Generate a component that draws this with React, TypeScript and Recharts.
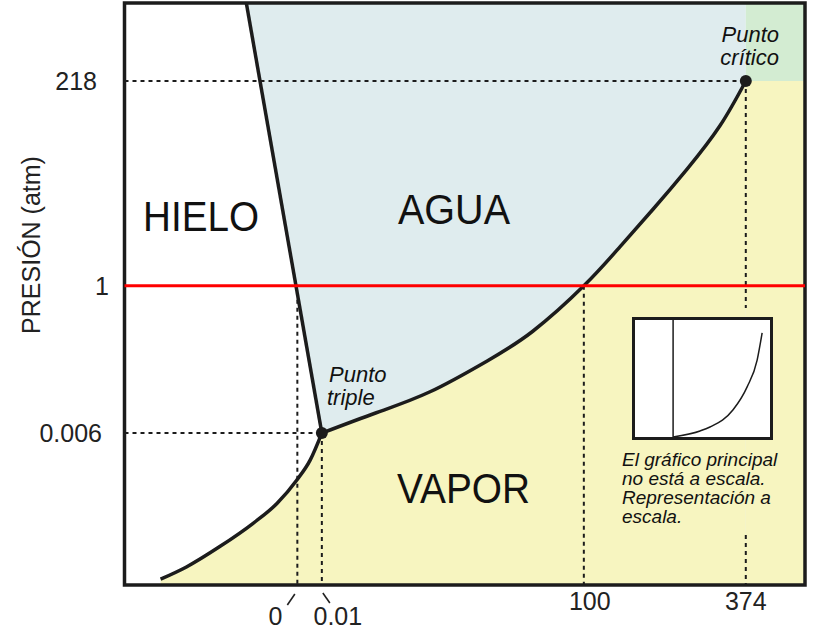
import React from 'react';
import {
  ComposedChart,
  LineChart,
  Area,
  Line,
  XAxis,
  YAxis,
  ReferenceLine,
  ReferenceArea,
  ReferenceDot,
} from 'recharts';

// schematic units (the main diagram is not to scale): 0..100 on both axes
const sublimationCurve = [
  { x: 5.3, y: 1.0 },
  { x: 9.1, y: 3.1 },
  { x: 14.0, y: 6.6 },
  { x: 18.9, y: 10.6 },
  { x: 22.4, y: 14.0 },
  { x: 25.3, y: 18.0 },
  { x: 27.3, y: 21.5 },
  { x: 29.0, y: 26.1 },
];

const vaporizationCurve = [
  { x: 29.0, y: 26.1 },
  { x: 37.0, y: 29.6 },
  { x: 44.9, y: 33.2 },
  { x: 53.3, y: 38.5 },
  { x: 60.0, y: 43.6 },
  { x: 67.5, y: 51.4 },
  { x: 72.8, y: 58.1 },
  { x: 77.7, y: 64.6 },
  { x: 82.7, y: 71.5 },
  { x: 87.5, y: 78.9 },
  { x: 91.3, y: 86.6 },
];

const fusionLine = [
  { x: 17.9, y: 100 },
  { x: 29.0, y: 26.1 },
];

const triplePoint = { x: 29.0, y: 26.1 };
const criticalPoint = { x: 91.3, y: 86.6 };

const temperatureTicks = [25.4, 29.0, 67.5, 91.3];
const temperatureLabels = ['0', '0.01', '100', '374'];
const pressureTicks = [26.1, 51.4, 86.6];
const pressureLabels = ['0.006', '1', '218'];
const oneAtm = 51.4;

// inset "to scale": temperature (°C) vs pressure (atm)
const insetCurve = [
  { t: 0, p: 0 },
  { t: 113, p: 12.6 },
  { t: 155, p: 21 },
  { t: 252, p: 57 },
  { t: 311, p: 105 },
  { t: 353, p: 161 },
  { t: 374, p: 218 },
];

const insetNote = ['El gráfico principal', 'no está a escala.', 'Representación a', 'escala.'];

// fill polygons built from the curves above
const iceRegion = [{ x: 0, y: 100 }, ...fusionLine];
const liquidBackground = [
  { x: 0, y: 100 },
  { x: criticalPoint.x, y: 100 },
];
const supercriticalRegion = [
  { x: criticalPoint.x, y: 100 },
  { x: 100, y: 100 },
];
const vaporRight = [
  { x: criticalPoint.x, y: criticalPoint.y },
  { x: 100, y: criticalPoint.y },
];

const FONT = '"Liberation Sans", Arial, Helvetica, sans-serif';
const INK = '#1c1c1c';
const BLUE = '#dfecee';
const YELLOW = '#f7f5c0';
const GREEN = '#d3ecd2';
const PLOT_LEFT = 124.5;

const PressureTick = (props: any) => {
  const { y, payload } = props;
  const i = pressureTicks.indexOf(payload.value);
  const rightEdge = [102, 109, 97][i] ?? 105;
  return (
    <text x={rightEdge} y={y} dy="0.36em" textAnchor="end" fontSize={25} fontFamily={FONT} fill="#222">
      {pressureLabels[i]}
    </text>
  );
};

const TemperatureTick = (props: any) => {
  const { x, payload } = props;
  const i = temperatureTicks.indexOf(payload.value);
  const label = temperatureLabels[i];
  if (i === 0) {
    return (
      <g>
        <line x1={x - 10} y1={605} x2={x - 2.5} y2={594} stroke="#222" strokeWidth={1.6} />
        <text x={x - 22} y={625} textAnchor="middle" fontSize={25} fontFamily={FONT} fill="#222">{label}</text>
      </g>
    );
  }
  if (i === 1) {
    return (
      <g>
        <line x1={x + 1} y1={593} x2={x + 8} y2={603} stroke="#222" strokeWidth={1.6} />
        <text x={x + 16} y={625} textAnchor="middle" fontSize={25} fontFamily={FONT} fill="#222">{label}</text>
      </g>
    );
  }
  const dx = i === 2 ? 6 : 0;
  return (
    <text x={x + dx} y={610} textAnchor="middle" fontSize={25} fontFamily={FONT} fill="#222">{label}</text>
  );
};

const dotted = { stroke: INK, strokeWidth: 2, strokeDasharray: '4 4' };

export default function App() {
  return (
    <div style={{ position: 'absolute', left: 0, top: 0, width: 819, height: 630, background: '#fff', overflow: 'hidden' }}>
      <ComposedChart width={819} height={630} margin={{ top: 3, right: 14, bottom: 0, left: 0 }}>
        <XAxis
          type="number"
          dataKey="x"
          domain={[0, 100]}
          ticks={temperatureTicks}
          tick={<TemperatureTick />}
          interval={0}
          height={45}
          axisLine={false}
          tickLine={false}
          allowDataOverflow
        />
        <YAxis
          type="number"
          dataKey="y"
          domain={[0, 100]}
          ticks={pressureTicks}
          tick={<PressureTick />}
          interval={0}
          width={PLOT_LEFT}
          axisLine={false}
          tickLine={false}
          allowDataOverflow
        />

        <Area data={liquidBackground} dataKey="y" type="linear" baseValue={0} fill={BLUE} fillOpacity={1} stroke="none" isAnimationActive={false} />
        <Area data={supercriticalRegion} dataKey="y" type="linear" baseValue={criticalPoint.y} fill={GREEN} fillOpacity={1} stroke="none" isAnimationActive={false} />
        <Area data={vaporRight} dataKey="y" type="linear" baseValue={0} fill={YELLOW} fillOpacity={1} stroke="none" isAnimationActive={false} />
        <Area data={iceRegion} dataKey="y" type="linear" baseValue={0} fill="#ffffff" fillOpacity={1} stroke="none" isAnimationActive={false} />
        <Area data={sublimationCurve} dataKey="y" type="monotone" baseValue={0} fill={YELLOW} fillOpacity={1} stroke="none" isAnimationActive={false} />
        <Area data={vaporizationCurve} dataKey="y" type="natural" baseValue={0} fill={YELLOW} fillOpacity={1} stroke="none" isAnimationActive={false} />

        <ReferenceLine segment={[{ x: 0, y: criticalPoint.y }, { x: criticalPoint.x, y: criticalPoint.y }]} {...dotted} />
        <ReferenceLine segment={[{ x: 0, y: triplePoint.y }, { x: triplePoint.x, y: triplePoint.y }]} {...dotted} />
        <ReferenceLine segment={[{ x: temperatureTicks[0], y: 49 }, { x: temperatureTicks[0], y: 0 }]} {...dotted} />
        <ReferenceLine segment={[{ x: temperatureTicks[1], y: triplePoint.y }, { x: temperatureTicks[1], y: 0 }]} {...dotted} />
        <ReferenceLine segment={[{ x: temperatureTicks[2], y: oneAtm }, { x: temperatureTicks[2], y: 0 }]} {...dotted} />
        <ReferenceLine segment={[{ x: temperatureTicks[3], y: criticalPoint.y }, { x: temperatureTicks[3], y: 47.6 }]} {...dotted} />
        <ReferenceLine segment={[{ x: temperatureTicks[3], y: 8.6 }, { x: temperatureTicks[3], y: 0 }]} {...dotted} />

        <Line data={fusionLine} dataKey="y" type="linear" stroke={INK} strokeWidth={3.5} dot={false} isAnimationActive={false} />
        <Line data={sublimationCurve} dataKey="y" type="monotone" stroke={INK} strokeWidth={3.5} dot={false} isAnimationActive={false} />
        <Line data={vaporizationCurve} dataKey="y" type="natural" stroke={INK} strokeWidth={3.5} dot={false} isAnimationActive={false} />

        <ReferenceLine y={oneAtm} stroke="#ff0000" strokeWidth={3} />

        <ReferenceDot x={triplePoint.x} y={triplePoint.y} r={6} fill={INK} stroke="none" />
        <ReferenceDot x={criticalPoint.x} y={criticalPoint.y} r={6} fill={INK} stroke="none" />

        <ReferenceArea x1={0} x2={100} y1={0} y2={100} fill="none" stroke={INK} strokeWidth={3.5} />
      </ComposedChart>

      <svg width={819} height={630} style={{ position: 'absolute', left: 0, top: 0, pointerEvents: 'none' }} fontFamily={FONT}>
        <text transform="translate(40,245) rotate(-90)" textAnchor="middle" fontSize={25} fill="#222">PRESIÓN (atm)</text>
        <text x={143} y={231} fontSize={42} textLength={116} lengthAdjust="spacingAndGlyphs" fill="#111">HIELO</text>
        <text x={398} y={224} fontSize={42} textLength={112} lengthAdjust="spacingAndGlyphs" fill="#111">AGUA</text>
        <text x={397} y={503} fontSize={42} textLength={133} lengthAdjust="spacingAndGlyphs" fill="#111">VAPOR</text>
        <g fontStyle="italic" fontSize={22} fill="#111">
          <text x={329} y={382}>Punto</text>
          <text x={327} y={405}>triple</text>
          <text x={779} y={42} textAnchor="end">Punto</text>
          <text x={779} y={65} textAnchor="end">crítico</text>
        </g>
        <g fontStyle="italic" fontSize={19} fill="#111">
          {insetNote.map((line, i) => (
            <text key={line} x={622} y={466 + i * 19}>{line}</text>
          ))}
        </g>
      </svg>

      <div
        style={{
          position: 'absolute',
          left: 632,
          top: 317,
          width: 135,
          height: 117,
          border: `3px solid ${INK}`,
          background: '#fff',
        }}
      >
        <LineChart width={135} height={117} data={insetCurve} margin={{ top: 0, right: 0, bottom: 0, left: 0 }}>
          <XAxis type="number" dataKey="t" domain={[-160, 407]} hide />
          <YAxis type="number" domain={[0, 245]} hide />
          <ReferenceLine x={0} stroke={INK} strokeWidth={1.5} />
          <Line dataKey="p" type="monotone" stroke={INK} strokeWidth={1.5} dot={false} isAnimationActive={false} />
        </LineChart>
      </div>
    </div>
  );
}
